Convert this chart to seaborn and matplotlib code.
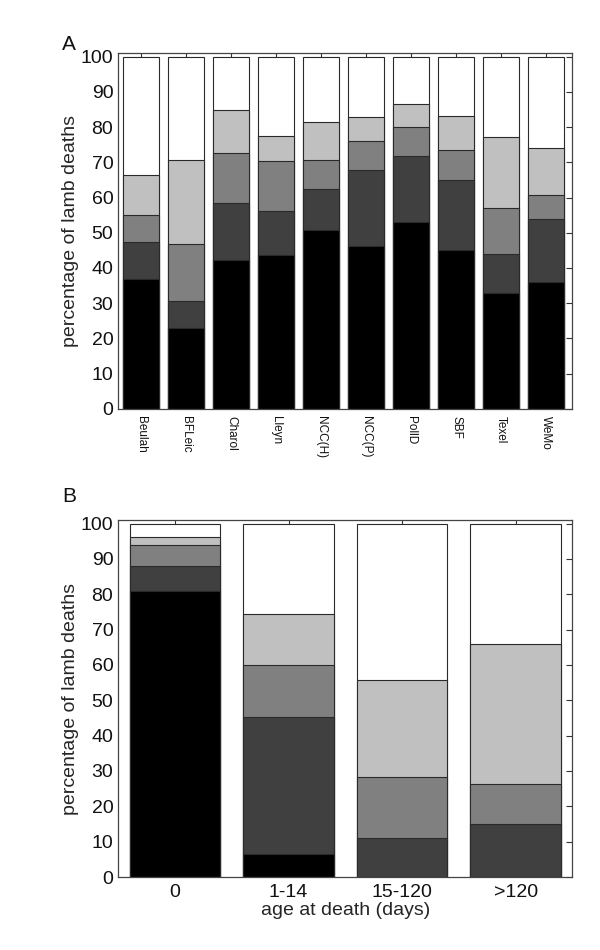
import numpy as np
import pandas as pd
import matplotlib
matplotlib.use("Agg")
import matplotlib.pyplot as plt
import seaborn as sns

# panel A: breeds, percentage of lamb deaths by cause (bottom -> top)
breeds = ["Beulah", "BFLeic", "Charol", "Lleyn", "NCC(H)",
          "NCC(P)", "PollD", "SBF", "Texel", "WeMo"]
a_black = [37.0, 23.0, 42.3, 43.8, 50.8, 46.3, 53.1, 45.0, 32.9, 35.9]
a_dark = [10.5, 7.5, 16.2, 12.5, 11.5, 21.5, 18.6, 20.1, 11.2, 17.9]
a_mid = [7.5, 16.3, 14.2, 14.0, 8.4, 8.2, 8.3, 8.3, 12.8, 7.0]
a_light = [11.5, 23.8, 12.2, 7.1, 10.7, 6.8, 6.4, 9.8, 20.4, 13.3]
a_white = [33.5, 29.4, 15.1, 22.6, 18.6, 17.2, 13.6, 16.8, 22.7, 25.9]

# panel B: age at death groups
ages = ["0", "1-14", "15-120", ">120"]
b_black = [81.0, 6.5, 0.0, 0.0]
b_dark = [7.0, 38.8, 11.0, 15.0]
b_mid = [6.0, 14.8, 17.4, 11.3]
b_light = [2.3, 14.2, 27.3, 39.7]
b_white = [3.7, 25.7, 44.3, 34.0]

shades = ["#000000", "#404040", "#808080", "#c0c0c0", "#ffffff"]

sns.set_style("white")
plt.rcParams["font.family"] = ["Liberation Sans", "DejaVu Sans"]
plt.rcParams["text.color"] = "#111111"


def stacked(ax, cats, segments):
    cum = np.cumsum(np.array(segments), axis=0)
    # draw tallest first so lower segments sit on top
    for i in range(len(segments) - 1, -1, -1):
        df = pd.DataFrame({"cat": cats, "val": cum[i]})
        sns.barplot(data=df, x="cat", y="val", color=shades[i], ax=ax,
                    width=0.8, edgecolor="#2a2a2a", linewidth=0.8,
                    saturation=1, errorbar=None)
    ax.set_ylim(0, 101)
    ax.set_yticks(range(0, 101, 10))
    ax.tick_params(direction="in", top=True, right=True, length=4,
                   labelsize=14, width=0.8, color="#333333",
                   labelcolor="#111111")
    for s in ax.spines.values():
        s.set_visible(True)
        s.set_color("#444444")
        s.set_linewidth(0.9)
    ax.set_ylabel("percentage of lamb deaths", fontsize=14, labelpad=1)


fig = plt.figure(figsize=(6, 9.5), dpi=100)

axA = fig.add_axes([0.197, 0.5695, 0.757, 0.3747])
stacked(axA, breeds, [a_black, a_dark, a_mid, a_light, a_white])
axA.set_xlim(-0.51, 9.58)
axA.set_xlabel("")
axA.set_xticks(range(len(breeds)))
axA.set_xticklabels(breeds, rotation=-90, fontsize=8.5)
axA.tick_params(axis="x", pad=5, labelsize=8.5)
fig.text(0.103, 0.947, "A", fontsize=15)

axB = fig.add_axes([0.197, 0.0768, 0.757, 0.3758])
stacked(axB, ages, [b_black, b_dark, b_mid, b_light, b_white])
axB.set_xlim(-0.5, 3.5)
axB.set_xlabel("age at death (days)", fontsize=14, labelpad=1)
axB.tick_params(axis="x", pad=5)
fig.text(0.103, 0.472, "B", fontsize=15)

fig.savefig("out.png", dpi=100, facecolor="white")
